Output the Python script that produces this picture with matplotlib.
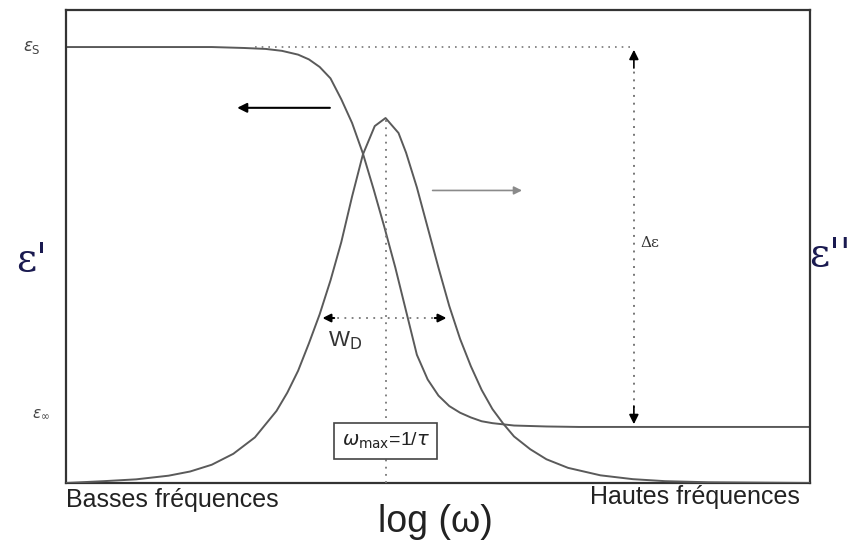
import numpy as np
import matplotlib
matplotlib.use("Agg")
import matplotlib.pyplot as plt

plt.rcParams['font.family'] = ['Liberation Sans', 'DejaVu Sans']

# log(omega*tau) in decades, real part eps'
x_real = [-2.95, -2.0, -1.6, -1.3, -1.1, -0.95, -0.8, -0.7, -0.6, -0.5,
          -0.4, -0.3, -0.2, -0.1, 0.0, 0.1, 0.2, 0.3, 0.4, 0.5,
          0.6, 0.7, 0.8, 0.9, 1.0, 1.2, 1.5, 1.8, 3.94]
eps_real = [5.00, 5.00, 5.00, 4.99, 4.98, 4.96, 4.92, 4.87, 4.79, 4.67,
            4.45, 4.20, 3.88, 3.50, 3.10, 2.68, 2.22, 1.76, 1.50, 1.33,
            1.22, 1.15, 1.10, 1.06, 1.04, 1.015, 1.005, 1.00, 1.00]

# imaginary part eps''
x_loss = [-2.95, -2.6, -2.3, -2.0, -1.8, -1.6, -1.4, -1.2, -1.0, -0.9,
          -0.8, -0.7, -0.6, -0.5, -0.4, -0.3, -0.2, -0.09, 0.01, 0.13,
          0.2, 0.3, 0.4, 0.5, 0.6, 0.7, 0.8, 0.9, 1.0, 1.1,
          1.2, 1.35, 1.5, 1.7, 2.0, 2.3, 2.6, 3.0, 3.94]
eps_loss = [0.000, 0.010, 0.020, 0.040, 0.063, 0.100, 0.160, 0.250, 0.395, 0.495,
            0.615, 0.765, 0.925, 1.110, 1.320, 1.570, 1.800, 1.956, 2.000, 1.918,
            1.810, 1.620, 1.400, 1.180, 0.970, 0.790, 0.640, 0.510, 0.405, 0.325,
            0.255, 0.185, 0.130, 0.083, 0.042, 0.021, 0.010, 0.004, 0.000]

eps_s, eps_inf = 5.0, 1.0
x_peak = 0.01
x_delta = 2.31
wd_left, wd_right, wd_level = -0.60, 0.60, 0.904

line_c = '#5a5a5a'

fig = plt.figure(figsize=(8.67, 5.46), dpi=100)
ax = fig.add_axes([0.0761, 0.1154, 0.858, 0.8663])
ax2 = ax.twinx()

ax.set_xlim(-2.95, 3.94)
ax.set_ylim(0.41, 5.39)
ax2.set_ylim(0, 2.592)

ax.plot(x_real, eps_real, color=line_c, lw=1.4)
ax2.plot(x_loss, eps_loss, color=line_c, lw=1.4)

for a in (ax, ax2):
    a.set_xticks([])
    a.set_yticks([])
for s in ax.spines.values():
    s.set_color('#333333')
    s.set_linewidth(1.6)
for s in ax2.spines.values():
    s.set_visible(False)

# dotted guides
ax.plot([-1.2, x_delta], [eps_s, eps_s], ls=(0, (1, 3)), color='#777777', lw=1.2)
ax.plot([x_delta, x_delta], [eps_inf + 0.2, eps_s - 0.2], ls=(0, (1, 3)),
        color='#777777', lw=1.4)
ax.annotate('', xy=(x_delta, eps_s), xytext=(x_delta, eps_s - 0.25),
            arrowprops=dict(arrowstyle='-|>', color='black', lw=1.2, mutation_scale=14))
ax.annotate('', xy=(x_delta, eps_inf), xytext=(x_delta, eps_inf + 0.25),
            arrowprops=dict(arrowstyle='-|>', color='black', lw=1.2, mutation_scale=14))
ax.text(x_delta + 0.06, 2.94, 'Δε', fontsize=11, va='center', ha='left',
        family='DejaVu Serif', color='#333333')

ax2.plot([x_peak, x_peak], [0, 2.0], ls=(0, (1, 3)), color='#777777', lw=1.3)
ax2.plot([wd_left + 0.1, wd_right - 0.1], [wd_level, wd_level], ls=(0, (1, 3)),
         color='#777777', lw=1.3)
ax2.annotate('', xy=(wd_left, wd_level), xytext=(wd_left + 0.16, wd_level),
             arrowprops=dict(arrowstyle='-|>', color='black', lw=1.5, mutation_scale=12))
ax2.annotate('', xy=(wd_right, wd_level), xytext=(wd_right - 0.16, wd_level),
             arrowprops=dict(arrowstyle='-|>', color='black', lw=1.5, mutation_scale=12))
ax2.text(-0.52, 0.78, r'W$_{\rm D}$', fontsize=16, color='#333333', ha='left', va='center')

# arrows showing which axis applies
ax.annotate('', xy=(-1.39, 4.36), xytext=(-0.48, 4.36),
            arrowprops=dict(arrowstyle='-|>', color='black', lw=1.5, mutation_scale=14))
ax.annotate('', xy=(1.30, 3.49), xytext=(0.42, 3.49),
            arrowprops=dict(arrowstyle='-|>', color='#8a8a8a', lw=1.2, mutation_scale=12))

# omega max box
ax2.text(x_peak, 0.23, r'$\omega_{\rm max}$=1/$\tau$', fontsize=14, ha='center',
         va='center', color='#222222',
         bbox=dict(boxstyle='square,pad=0.4', fc='white', ec='#444444', lw=1.2))

# axis side labels
ax.text(-3.27, eps_s, r'$\varepsilon_{\rm S}$', fontsize=12, ha='center', va='center',
        color='#444444')
ax.text(-3.18, eps_inf + 0.14, r'$\varepsilon_{\infty}$', fontsize=11, ha='center',
        va='center', color='#444444')
ax.text(-3.27, 2.75, "ε'", fontsize=28, ha='center', va='center', color='#1a1a50',
        family='DejaVu Serif')
ax.text(4.13, 2.8, "ε''", fontsize=28, ha='center', va='center', color='#1a1a50',
        family='DejaVu Serif')

fig.text(0.0761, 0.085, 'Basses fréquences', fontsize=18, ha='left', va='center',
         color='#222222')
fig.text(0.923, 0.089, 'Hautes fréquences', fontsize=18, ha='right', va='center',
         color='#222222')
fig.text(0.502, 0.044, 'log (ω)', fontsize=27, ha='center', va='center', color='#222222')

fig.savefig('out.png', dpi=100)
